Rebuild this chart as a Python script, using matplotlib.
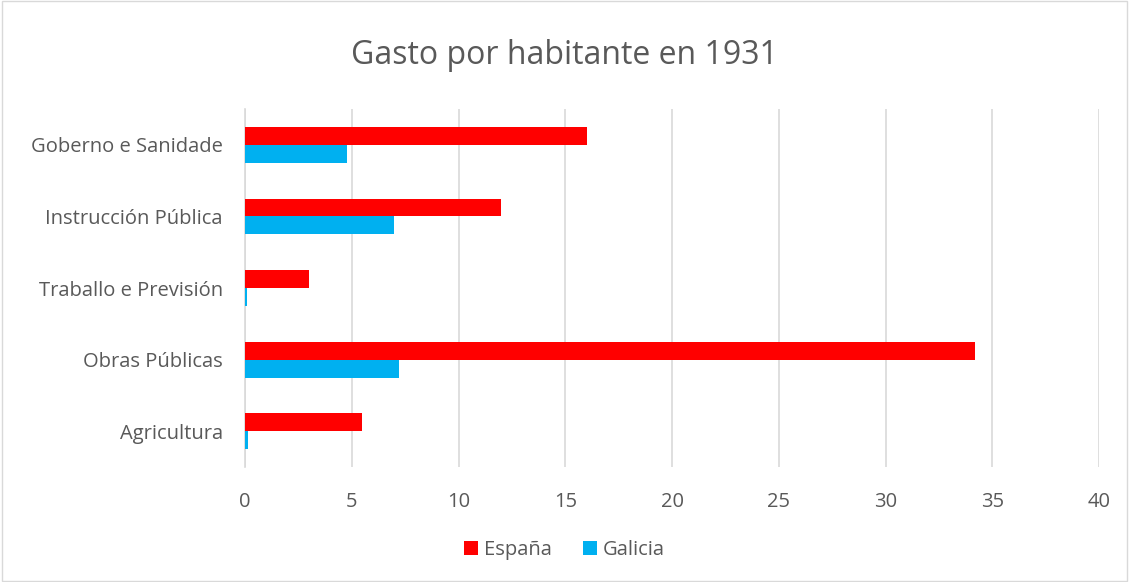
import matplotlib
matplotlib.use("Agg")
import matplotlib.pyplot as plt
import numpy as np

categories = ["Goberno e Sanidade", "Instrucción Pública", "Traballo e Previsión",
              "Obras Públicas", "Agricultura"]
espana = [16.0, 12.0, 3.0, 34.2, 5.5]
galicia = [4.8, 7.0, 0.08, 7.2, 0.15]

RED = "#ff0000"
BLUE = "#00b0f0"
TXT = "#595959"

plt.rcParams["font.family"] = ["Open Sans", "DejaVu Sans"]

fig = plt.figure(figsize=(11.29, 5.82), dpi=100)
ax = fig.add_axes([245 / 1129, 1 - 467 / 582, (1099 - 245) / 1129, (467 - 109) / 582])

y = np.arange(len(categories))
h = 0.25
ax.barh(y - h / 2, espana, height=h, color=RED, label="España", zorder=3)
ax.barh(y + h / 2, galicia, height=h, color=BLUE, label="Galicia", zorder=3)

ax.set_ylim(len(categories) - 0.5, -0.5)
ax.set_xlim(0, 40)
ax.set_xticks(range(0, 41, 5))
ax.set_yticks(y)
ax.set_yticklabels(categories)
ax.tick_params(axis="both", length=0, labelsize=14.5, colors=TXT)
ax.tick_params(axis="x", pad=18)
ax.tick_params(axis="y", pad=16)
ax.grid(axis="x", color="#d9d9d9", lw=1.2, zorder=0)
for s in ["top", "right", "bottom"]:
    ax.spines[s].set_visible(False)
ax.spines["left"].set_color("#d9d9d9")
ax.spines["left"].set_linewidth(1.2)

fig.text(0.5, 1 - 56 / 582, "Gasto por habitante en 1931", ha="center", va="center",
         fontsize=23, color=TXT)

fig.legend(loc="center", bbox_to_anchor=(0.5, 1 - 550 / 582), ncol=2, frameon=False,
           fontsize=14.5, labelcolor=TXT, handlelength=0.7, handleheight=0.7,
           columnspacing=1.5, handletextpad=0.3)

fig.patches.append(plt.Rectangle((0.002, 0.002), 0.996, 0.996, transform=fig.transFigure,
                                 fill=False, edgecolor="#d9d9d9", lw=1))

fig.savefig("out.png", dpi=100)
